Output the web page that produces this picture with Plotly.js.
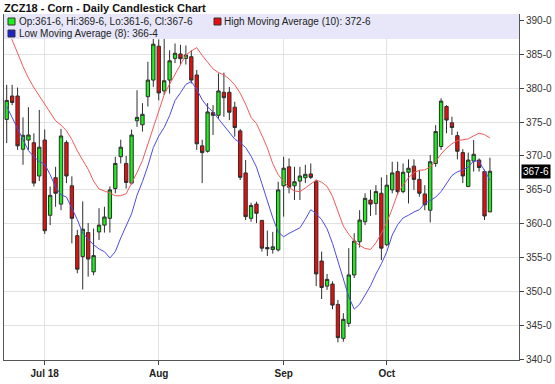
<!DOCTYPE html>
<html>
<head>
<meta charset="utf-8">
<script src="https://cdn.plot.ly/plotly-3.0.1.min.js"></script>
<style>
  html, body { margin: 0; padding: 0; background: #ffffff; }
  #chart { width: 555px; height: 384px; }
</style>
</head>
<body>
<div id="chart"></div>
<script>
// ---- data ----
const dates = [
  '2018-06-21','2018-06-22','2018-06-25','2018-06-26','2018-06-27','2018-06-28','2018-06-29',
  '2018-07-02','2018-07-03','2018-07-05','2018-07-06','2018-07-09','2018-07-10','2018-07-11',
  '2018-07-12','2018-07-13','2018-07-16','2018-07-17','2018-07-18','2018-07-19','2018-07-20',
  '2018-07-23','2018-07-24','2018-07-25','2018-07-26','2018-07-27','2018-07-30','2018-07-31',
  '2018-08-01','2018-08-02','2018-08-03','2018-08-06','2018-08-07','2018-08-08','2018-08-09',
  '2018-08-10','2018-08-13','2018-08-14','2018-08-15','2018-08-16','2018-08-17','2018-08-20',
  '2018-08-21','2018-08-22','2018-08-23','2018-08-24','2018-08-27','2018-08-28','2018-08-29',
  '2018-08-30','2018-08-31','2018-09-04','2018-09-05','2018-09-06','2018-09-07','2018-09-10',
  '2018-09-11','2018-09-12','2018-09-13','2018-09-14','2018-09-17','2018-09-18','2018-09-19',
  '2018-09-20','2018-09-21','2018-09-24','2018-09-25','2018-09-26','2018-09-27','2018-09-28',
  '2018-10-01','2018-10-02','2018-10-03','2018-10-04','2018-10-05','2018-10-08','2018-10-09',
  '2018-10-10','2018-10-11','2018-10-12','2018-10-15','2018-10-16','2018-10-17','2018-10-18',
  '2018-10-19','2018-10-22','2018-10-23','2018-10-24','2018-10-25','2018-10-26'
];
const openP = [
  375.4,378.85,378.85,371,372.35,371.96,367.05,
  372.36,361.25,366.8,362.9,372,365.6,358.25,
  355.15,358.7,352.9,358.8,359.8,360.8,365.2,
  369.9,368.9,366,375.2,374.6,378.75,381.2,
  386.2,379.6,381.2,384.4,385.05,384.4,384.65,
  381.95,371.5,370.7,376.4,376,379.4,379.4,
  377.2,373.7,367.5,360.8,362.9,360.5,356.5,
  356.2,356.15,365.6,368.4,365.6,366.3,366.8,
  367.35,366.2,354.5,350.8,351.1,348.1,343.1,
  345.3,352.45,357.35,360.3,363.5,363,364.5,
  356.9,365,367.7,364.75,367.6,368.5,366.55,
  364.4,362,368.9,371.4,377.3,374.9,373,
  370.5,365.5,369.25,369.4,367.7,361.75
];
const highP = [
  380.5,380.5,380.1,375.7,377.2,373.35,376.8,
  373.9,365.5,368.4,374,372.3,367,359.1,
  363.3,360.1,359.3,362.3,362.5,365.5,369.9,
  372.4,370,373.9,379.7,377.8,383.9,388,
  387.2,387.6,385.6,386.6,386.4,386.3,385.6,
  382.7,372.4,377.8,377.5,382.2,382.3,380.2,
  378,374,369.4,363.1,363.25,360.55,359,
  358.8,366.2,369.9,369.65,368.4,368.4,368.7,
  368.9,366.5,355.9,352.6,351.5,348.75,346.8,
  356.4,358.6,362,364.5,365,365.7,366.85,
  367.2,369.15,369.15,368.9,369.5,369.5,367.9,
  365.7,370.15,374.55,378.5,377.5,375.8,373.6,
  371,370.5,372.35,369.65,368,369.75
];
const lowP = [
  371.9,377.5,370.9,368.7,370.9,365.5,366.3,
  358.5,359.8,362.5,362,366,357.1,352.7,
  350.3,352.2,352.4,357.6,358.7,358.7,364.5,
  368.9,365.2,365.8,374.3,373.6,377.3,380.2,
  378.2,379,379.2,383.7,383.4,383.5,380.7,
  370.9,366,370.5,373.1,375.5,375.8,375.3,
  372.85,366.45,360.55,360.3,360.1,355.9,355.25,
  355.6,355.9,361.05,364.5,363.5,363.5,366,
  366.6,350.8,348.9,350.25,347.4,342.5,342.6,
  344.8,352,356.5,359.8,361.15,361.3,354.65,
  356.7,364.5,364.3,364.5,363,365,364,
  362,360.2,368.4,370.9,373.35,373.1,369.5,
  366,365.4,367.7,367.7,360.55,361.75
];
const closeP = [
  378.2,377.9,371.5,373.05,373.1,366,371.3,
  358.98,364.2,364.5,372.95,367.05,360.8,353.3,
  359.2,354.8,355.3,359.8,361,365,368.9,
  371.3,366.1,373.1,375.7,376.15,381.2,386.5,
  379.3,381.1,384.05,385.15,384.35,384.9,381.2,
  371.8,370.5,376.5,376,379.6,378.6,376.45,
  374.2,366.85,361.05,362.7,361.55,356.4,356.3,
  356.6,365,368.2,365.4,366.2,367.05,367.3,
  366.85,352.6,350.6,351.8,348,343.2,345.9,
  352.45,357.45,360.55,363.75,362.9,364.75,356.4,
  365.7,367.5,364.75,367.6,368.2,366.55,364.5,
  362.8,369.15,373.6,378.1,375.3,374.2,370.7,
  367.05,369.4,370.25,368.3,361.15,367.75
];
const highMA10 = [
  389.0,387.2,385.2,383.2,381.5,380.1,378.9,
  377.7,376.4,375.2,374.55,373.73,372.42,370.76,
  369.37,368.04,366.29,365.13,364.83,364.54,364.13,
  364.14,364.44,365.92,367.56,369.33,371.79,374.36,
  376.83,379.04,380.61,382.03,383.67,384.91,385.5,
  385.99,384.84,383.82,382.85,382.31,381.98,381.34,
  380.5,379.27,377.65,375.69,374.78,373.05,371.2,
  368.86,367.25,366.22,365.39,364.83,364.73,365.29,
  365.85,366.45,366.14,365.52,364.05,361.93,359.65,
  358.45,357.47,356.8,356.36,356.21,357.19,358.61,
  360.18,362.22,364.46,365.71,366.8,367.55,367.89,
  367.96,368.4,369.17,370.3,371.14,371.8,372.27,
  372.42,372.52,372.97,373.36,373.15,372.67
];
const lowMA8 = [
  377.3,375.7,374.0,372.3,370.8,369.9,369.2,
  368.78,367.26,365.39,364.28,363.94,362.21,360.61,
  358.61,357.83,356.9,356.29,355.88,354.96,355.89,
  357.91,359.78,361.48,364.21,366.21,368.54,371.23,
  372.94,374.2,375.95,378.19,379.33,380.56,380.99,
  379.83,378.3,377.24,376.48,375.45,374.5,373.48,
  372.49,371.94,371.26,369.98,368.36,365.91,363.34,
  360.88,358.76,358.08,358.58,358.98,359.4,360.66,
  362.08,361.48,360.61,359.26,357.12,354.49,351.88,
  349.23,347.41,348.12,349.48,350.84,352.58,354.1,
  355.86,358.33,359.86,360.86,361.26,361.74,362.08,
  363.0,363.44,363.93,364.75,365.86,367.12,367.68,
  367.93,368.36,369.29,369.21,367.91,366.46
];
const xTickVals = ['2018-07-02','2018-08-01','2018-09-04','2018-10-01'];
const xTickText = ['Jul 18','Aug','Sep','Oct'];
const yTickVals = [340,345,350,355,360,365,370,375,380,385,390];
const yTickText = ['340-0','345-0','350-0','355-0','360-0','365-0','370-0','375-0','380-0','385-0','390-0'];
const titleText = 'ZCZ18 - Corn - Daily Candlestick Chart';
const ohlcText = 'Op:361-6, Hi:369-6, Lo:361-6, Cl:367-6';
const highMAText = 'High Moving Average (10): 372-6';
const lowMAText = 'Low Moving Average (8): 366-4';
const lastPrice = 367.75;
const lastPriceText = '367-6';

// ---- geometry helpers (paper coordinates from pixel layout) ----
const M = {l: 4, r: 36, t: 14, b: 24};
const W = 555, H = 384;
const pw = W - M.l - M.r, ph = H - M.t - M.b;
const px = x => (x - M.l) / pw;
const py = y => (H - M.b - y) / ph;

const font = 'Liberation Sans, Arial, sans-serif';
const upFill = '#1cf01c';
const downFill = '#ec0c0c';

const traces = [
  {
    type: 'candlestick',
    x: dates, open: openP, high: highP, low: lowP, close: closeP,
    increasing: {line: {color: '#2e2e2e', width: 1}, fillcolor: upFill},
    decreasing: {line: {color: '#2e2e2e', width: 1}, fillcolor: downFill},
    whiskerwidth: 0,
    hoverinfo: 'x+y',
    showlegend: false
  },
  {
    type: 'scatter', mode: 'lines', x: dates, y: highMA10,
    line: {color: '#f25a5a', width: 1}, showlegend: false, hoverinfo: 'skip'
  },
  {
    type: 'scatter', mode: 'lines', x: dates, y: lowMA8,
    line: {color: '#4c4ce2', width: 1}, showlegend: false, hoverinfo: 'skip'
  }
];

const sq = (x0, y0, color) => ({
  type: 'rect', xref: 'paper', yref: 'paper', layer: 'above',
  x0: px(x0), x1: px(x0 + 7), y0: py(y0 + 7), y1: py(y0),
  fillcolor: color, line: {color: '#333333', width: 1}
});

const layout = {
  width: W, height: H,
  margin: M,
  paper_bgcolor: '#ffffff',
  plot_bgcolor: '#ffffff',
  showlegend: false,
  boxgap: 0.12,
  xaxis: {
    type: 'category',
    range: [-0.5, 94.35],
    tickvals: xTickVals, ticktext: xTickText,
    ticks: 'outside', ticklen: 4, tickcolor: '#444',
    showline: true, linecolor: '#555', linewidth: 1,
    showgrid: true, gridcolor: '#e2e2e2',
    tickfont: {family: font, size: 10, color: '#222', weight: 'bold'},
    rangeslider: {visible: false},
    fixedrange: true
  },
  yaxis: {
    side: 'right',
    range: [339.9, 390.95],
    tickvals: yTickVals, ticktext: yTickText,
    ticks: 'outside', ticklen: 4, tickcolor: '#444',
    showline: true, mirror: true, linecolor: '#555', linewidth: 1,
    showgrid: true, gridcolor: '#e2e2e2',
    zeroline: false,
    tickfont: {family: font, size: 10, color: '#333'},
    fixedrange: true
  },
  shapes: [
    {type: 'rect', xref: 'paper', yref: 'paper', layer: 'above',
     x0: 0, x1: 1, y0: py(39), y1: 1,
     fillcolor: '#e7e7f9', line: {width: 0}},
    sq(8, 18, upFill),
    sq(214, 18, downFill),
    sq(8, 30, '#2020d0')
  ],
  annotations: [
    {xref: 'paper', yref: 'paper', x: px(2), y: py(8), xanchor: 'left', yanchor: 'middle',
     text: titleText, showarrow: false,
     font: {family: font, size: 11, color: '#111', weight: 'bold'}},
    {xref: 'paper', yref: 'paper', x: px(17), y: py(21.5), xanchor: 'left', yanchor: 'middle',
     text: ohlcText, showarrow: false, font: {family: font, size: 10, color: '#222'}},
    {xref: 'paper', yref: 'paper', x: px(222), y: py(21.5), xanchor: 'left', yanchor: 'middle',
     text: highMAText, showarrow: false, font: {family: font, size: 10, color: '#222'}},
    {xref: 'paper', yref: 'paper', x: px(17), y: py(33.5), xanchor: 'left', yanchor: 'middle',
     text: lowMAText, showarrow: false, font: {family: font, size: 10, color: '#222'}},
    {xref: 'paper', yref: 'y', x: px(521), y: lastPrice, xanchor: 'left', yanchor: 'middle',
     text: lastPriceText, showarrow: false, bgcolor: '#000000', borderpad: 1,
     font: {family: font, size: 10, color: '#ffffff'}}
  ]
};

Plotly.newPlot('chart', traces, layout, {displayModeBar: false, staticPlot: true});
</script>
</body>
</html>
